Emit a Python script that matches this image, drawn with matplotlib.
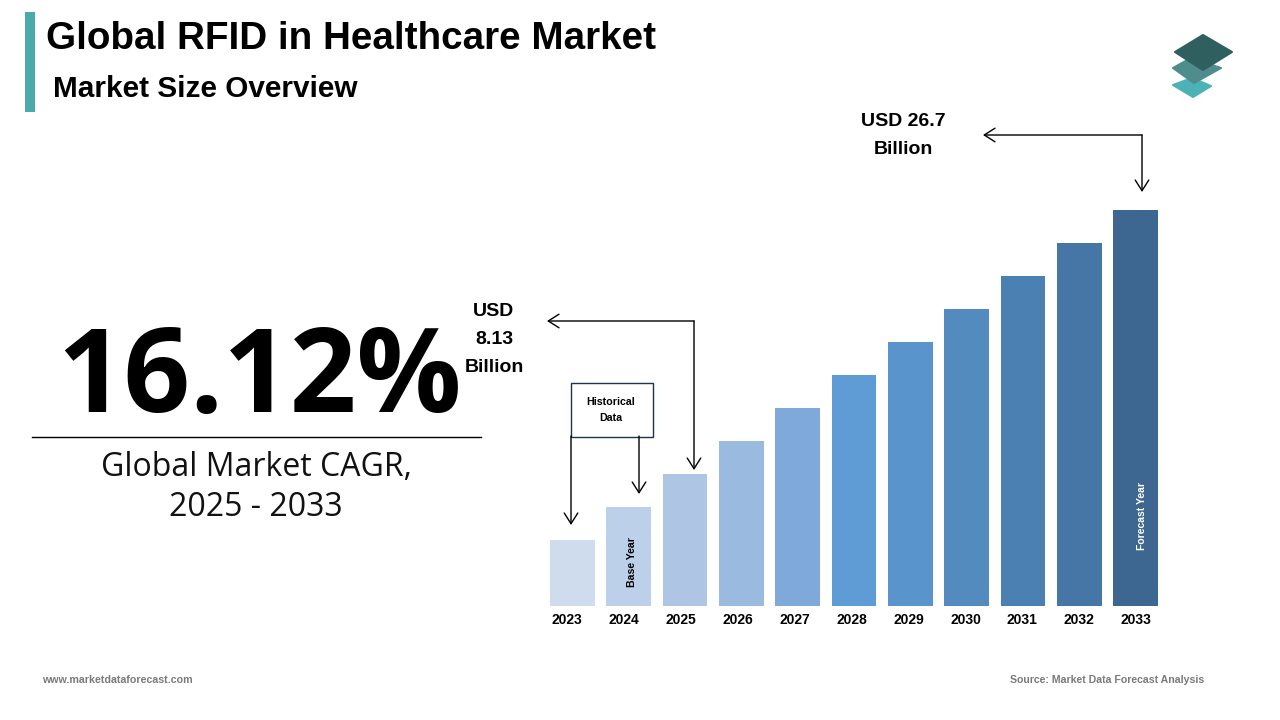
import matplotlib
matplotlib.use("Agg")
import matplotlib.pyplot as plt
from matplotlib.patches import Polygon, Rectangle

years = ["2023", "2024", "2025", "2026", "2027", "2028", "2029", "2030", "2031", "2032", "2033"]
# bars are drawn as even steps in the picture, not to the stated USD scale
bar_heights = [2, 3, 4, 5, 6, 7, 8, 9, 10, 11, 12]
bar_colors = ["#CFDCEE", "#BDD0E9", "#AEC6E4", "#9ABADF", "#7FA9DA", "#5F9BD5",
              "#5A94CC", "#538BBF", "#4B80B3", "#4676A5", "#3D6790"]
label_pos = [-0.09, 0.92, 1.93, 2.94, 3.95, 4.96, 5.97, 6.98, 7.99, 9.0, 10.01]

font = "Liberation Sans"

W, H = 1280, 720
fig = plt.figure(figsize=(12.8, 7.2), dpi=100, facecolor="white")

# overlay in pixel coords for everything around the chart
bg = fig.add_axes([0, 0, 1, 1])
bg.set_xlim(0, W)
bg.set_ylim(H, 0)
bg.axis("off")

# bars
ax = fig.add_axes([550 / W, 1 - 606 / H, 608 / W, 396 / H])
ax.bar(range(len(years)), bar_heights, width=0.794, color=bar_colors)
ax.set_xlim(-0.397, 10.397)
ax.set_ylim(0, 12)
ax.set_yticks([])
ax.set_xticks(label_pos)
ax.set_xticklabels(years, family=font, fontweight="bold", fontsize=10, color="black")
ax.tick_params(axis="x", length=0, pad=5)
for s in ax.spines.values():
    s.set_visible(False)
ax.patch.set_alpha(0)
ax.text(1.05, 0.58, "Base Year", rotation=90, ha="center", va="bottom", family=font,
        fontweight="bold", fontsize=7.6, color="black")
ax.text(10.11, 1.7, "Forecast Year", rotation=90, ha="center", va="bottom", family=font,
        fontweight="bold", fontsize=7.5, color="white")

# header
bg.add_patch(Rectangle((25, 12), 10, 100, color="#4BAAAB", lw=0))
bg.text(46, 39, "Global RFID in Healthcare Market", family=font, fontweight="bold",
        fontsize=27.8, va="center", color="black")
bg.text(53, 89, "Market Size Overview", family=font, fontweight="bold",
        fontsize=21.4, va="center", color="black")

# logo
bg.add_patch(Polygon([(1173, 85), (1192, 78), (1211, 86), (1193, 97)], fc="#4BB3B5", ec="#4BB3B5", lw=1.5, joinstyle="round"))
bg.add_patch(Polygon([(1173, 68), (1191, 58), (1221, 68), (1194, 83)], fc="#4F8C8C", ec="#4F8C8C", lw=1.5, joinstyle="round"))
bg.add_patch(Polygon([(1175, 52), (1203, 35), (1232, 52), (1203, 70)], fc="#2F5F5E", ec="#2F5F5E", lw=1.5, joinstyle="round"))

# CAGR block
bg.text(259, 381, "16.12%", family="Open Sans", fontweight="bold", fontsize=84,
        ha="center", va="center", color="black")
bg.plot([32, 481], [436.5, 436.5], color="black", lw=1)
bg.text(256, 467, "Global Market CAGR,", family="Open Sans", fontsize=23, ha="center", va="center", color="#111111")
bg.text(256, 507, "2025 - 2033", family="Open Sans", fontsize=23, ha="center", va="center", color="#111111")

# value callouts
for y, t in zip([311, 339, 368], ["USD", "8.13", "Billion"]):
    bg.text(494, y, t, family=font, fontweight="bold", fontsize=14, ha="center", va="center", color="black")
for y, t in zip([121, 149], ["USD 26.7", "Billion"]):
    bg.text(903, y, t, family=font, fontweight="bold", fontsize=14, ha="center", va="center", color="black")


def arrow(start, end):
    bg.annotate("", xy=end, xytext=start,
                arrowprops=dict(arrowstyle="->,head_length=0.55,head_width=0.35", color="black", lw=1,
                                mutation_scale=14, shrinkA=0, shrinkB=0))


arrow((1142, 135), (983, 135))
arrow((1142, 135), (1142, 192))
arrow((694, 321), (547, 321))
arrow((694, 321), (694, 470))
arrow((571, 436), (571, 525))
arrow((639, 436), (639, 494))

# historical data box
bg.add_patch(Rectangle((570.5, 382.5), 82, 54, fc="white", ec="#1F3350", lw=1))
bg.text(611, 402, "Historical", family=font, fontweight="bold", fontsize=7.7, ha="center", va="center", color="black")
bg.text(611, 418, "Data", family=font, fontweight="bold", fontsize=7.7, ha="center", va="center", color="black")

# footer
bg.text(42, 680, "www.marketdataforecast.com", family=font, fontweight="bold", fontsize=7.7, va="center", color="#7A7A7A")
bg.text(1204, 680, "Source: Market Data Forecast Analysis", family=font, fontweight="bold", fontsize=7.6,
        ha="right", va="center", color="#7A7A7A")

fig.savefig("out.png", dpi=100)
